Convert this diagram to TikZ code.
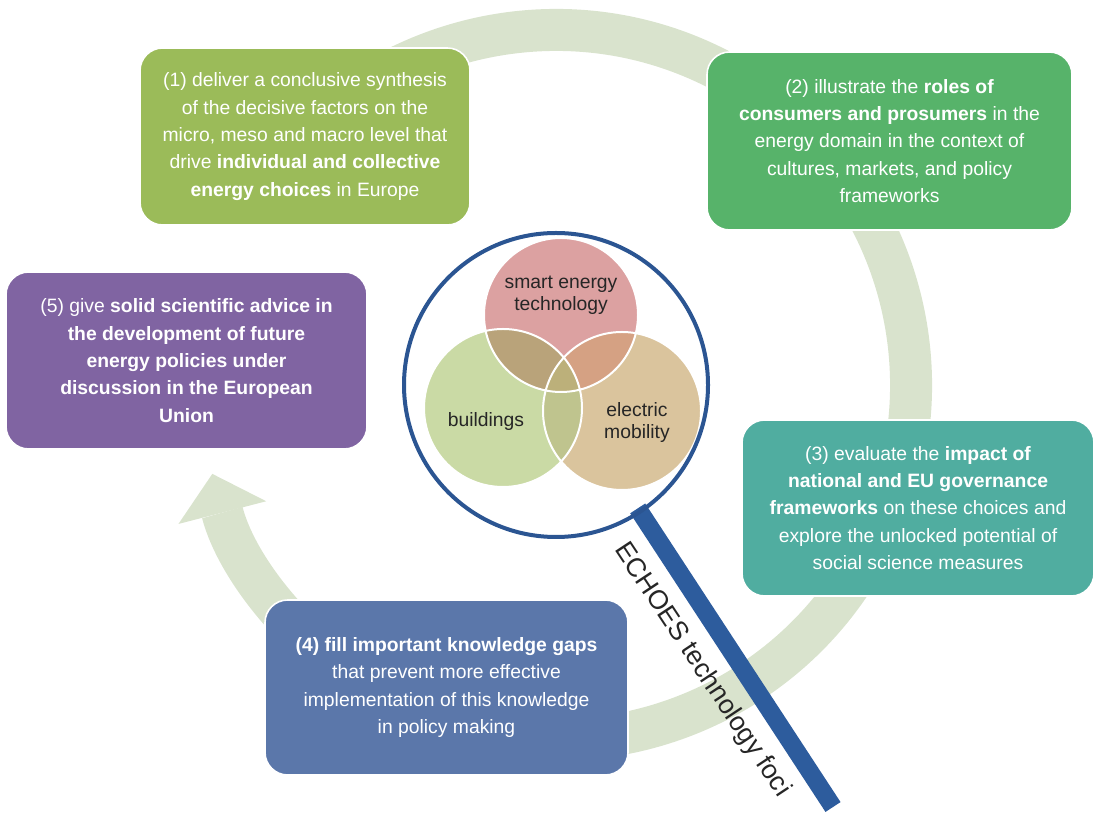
\documentclass[tikz,border=0pt]{standalone}
\usepackage{fontspec}
\setmainfont{Liberation Sans}
\usetikzlibrary{arrows.meta, calc}

\definecolor{ringgreen}{HTML}{D9E3CD}
\definecolor{aimolive}{HTML}{9BBB59}
\definecolor{aimgreen}{HTML}{57B36A}
\definecolor{aimteal}{HTML}{50ADA0}
\definecolor{aimblue}{HTML}{5B77AA}
\definecolor{aimpurple}{HTML}{8064A2}
\definecolor{lensblue}{HTML}{2B5592}
\definecolor{handleblue}{HTML}{2D5C9D}
\definecolor{vpink}{HTML}{DCA1A1}
\definecolor{vgreen}{HTML}{CADAA5}
\definecolor{vtan}{HTML}{DAC49D}
\definecolor{vpg}{HTML}{B9A37A}
\definecolor{vpt}{HTML}{D5A183}
\definecolor{vgt}{HTML}{BFC48E}
\definecolor{vpgt}{HTML}{BCB07A}

\tikzset{
	aim/.style={rounded corners=17pt, draw=white, line width=1.2pt, text=white,
		align=center, inner sep=0pt, font=\fontsize{14.5}{20.5}\selectfont},
	focus/.style={text=black!85, align=center, font=\fontsize{14.5}{16.5}\selectfont}
}

\begin{document}
\begin{tikzpicture}[x=0.75pt,y=0.75pt]
	\useasboundingbox (0,0) rectangle (1094,813);
	\coordinate (lens) at (556,428);

	% the cycle
	\draw[ringgreen, line width=31.5pt, -{Triangle[width=68pt, length=30pt, line width=0pt]}]
		(lens) ++(150:355) arc[start angle=150, end angle=-165.5, radius=355];

	% the five aims
	\node[aim, fill=aimolive, minimum width=247.5pt, minimum height=132.75pt] (aim1) at (305,676.5)
		{(1) deliver a conclusive synthesis\\ of the decisive factors on the\\ micro, meso and macro level that\\
		drive \textbf{individual and collective}\\ \textbf{energy choices} in Europe};
	\node[aim, fill=aimgreen, minimum width=273.75pt, minimum height=133.5pt] (aim2) at (889.5,672)
		{(2) illustrate the \textbf{roles of}\\ \textbf{consumers and prosumers} in the\\
		energy domain in the context of\\ cultures, markets, and policy\\ frameworks};
	\node[aim, fill=aimteal, minimum width=264pt, minimum height=132pt] (aim3) at (918,305)
		{(3) evaluate the \textbf{impact of}\\ \textbf{national and EU governance}\\
		\textbf{frameworks} on these choices and\\ explore the unlocked potential of\\ social science measures};
	\node[aim, fill=aimblue, minimum width=272.25pt, minimum height=131.25pt] (aim4) at (446.5,125.5)
		{\textbf{(4) fill important knowledge gaps}\\ that prevent more effective\\
		implementation of this knowledge\\ in policy making};
	\node[aim, fill=aimpurple, minimum width=270.75pt, minimum height=132.75pt] (aim5) at (186.5,452.5)
		{(5) give \textbf{solid scientific advice in}\\ \textbf{the development of future}\\
		\textbf{energy policies under}\\ \textbf{discussion in the European}\\ \textbf{Union}};

	% magnifying glass
	\coordinate (handletop) at ($(lens)+(-56.5:148)$);
	\coordinate (handleend) at (833,6);
	\draw[handleblue, line width=13.5pt] (handletop) -- (handleend);
	\node[rotate=-56.5, text=black!85, font=\fontsize{20}{24}\selectfont] (foci) at (702,143)
		{ECHOES technology foci};

	% venn of the technologies
	\coordinate (P) at (561,498);
	\coordinate (G) at (503,405);
	\coordinate (T) at (622,402);
	\fill[vpink] (P) circle[radius=77];
	\fill[vgreen] (G) circle[radius=79];
	\fill[vtan] (T) circle[radius=79];
	\begin{scope}
		\clip (G) circle[radius=79];
		\fill[vgt] (T) circle[radius=79];
	\end{scope}
	\begin{scope}
		\clip (P) circle[radius=77];
		\fill[vpg] (G) circle[radius=79];
		\fill[vpt] (T) circle[radius=79];
		\clip (G) circle[radius=79];
		\fill[vpgt] (T) circle[radius=79];
	\end{scope}
	\draw[white, line width=1.5pt] (P) circle[radius=77] (G) circle[radius=79] (T) circle[radius=79];
	\node[focus] (smart) at (561,518) {smart energy\\technology};
	\node[focus] (bldg) at (486,391) {buildings};
	\node[focus] (emob) at (637,390) {electric\\mobility};

	\draw[lensblue, line width=3pt] (lens) circle[radius=152];
\end{tikzpicture}
\end{document}
